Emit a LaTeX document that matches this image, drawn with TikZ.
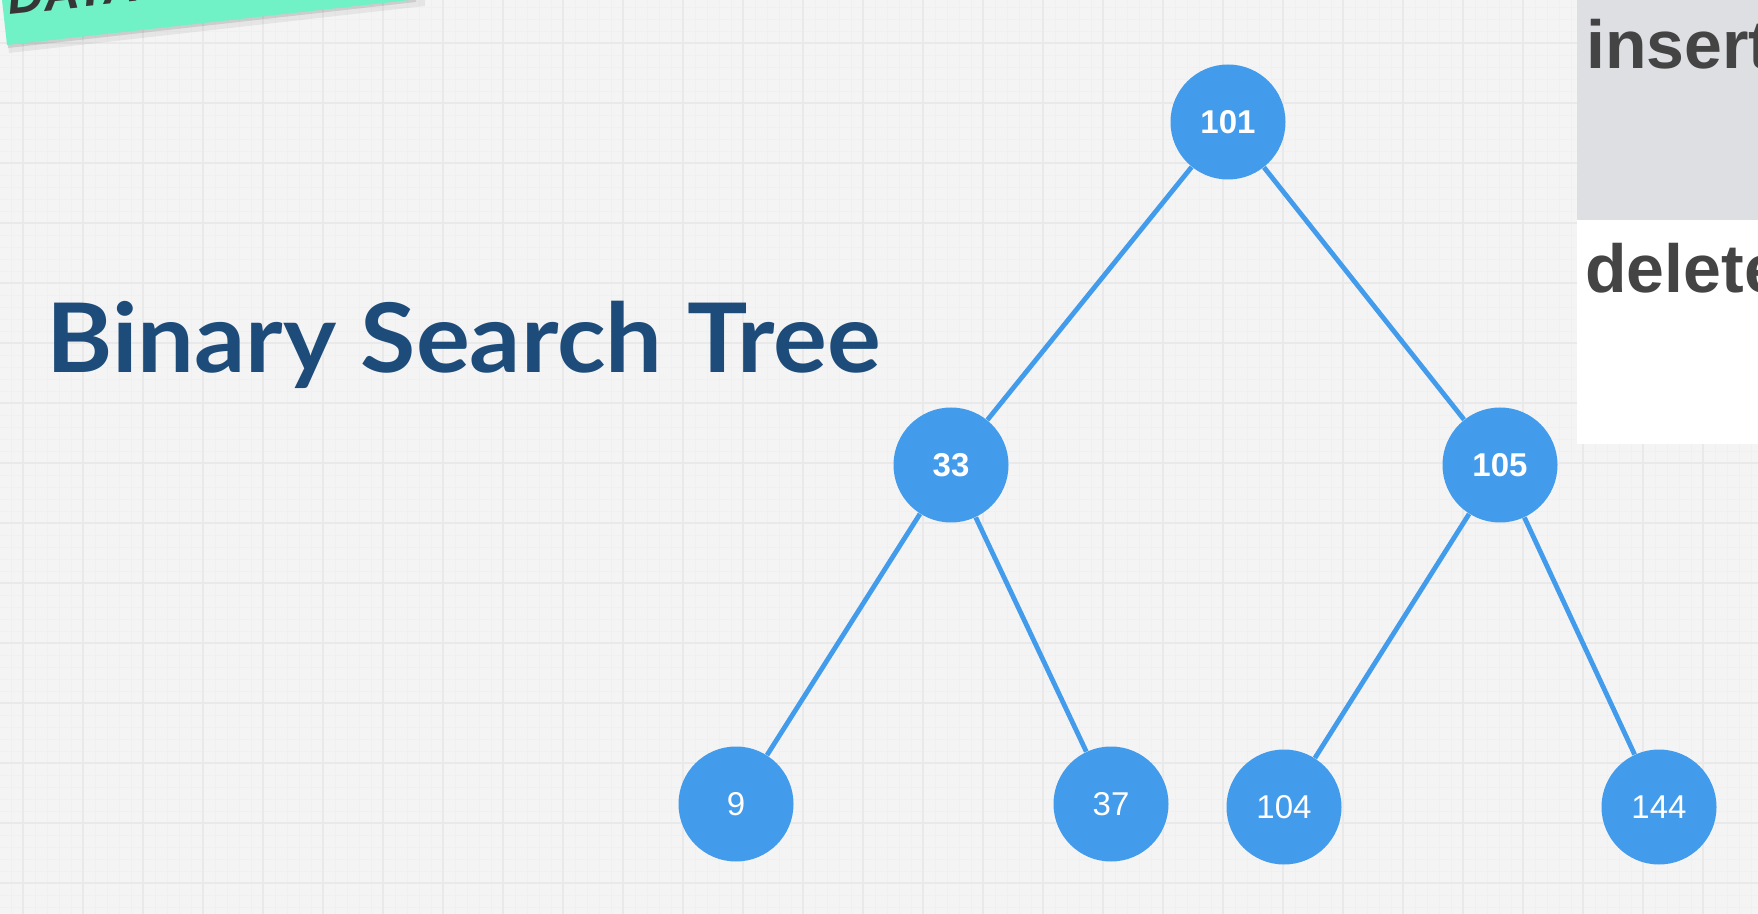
\documentclass[tikz,border=0pt]{standalone}
\usepackage{fontspec}
\setmainfont{Liberation Sans}
\newfontfamily\titlefont{Lato}
\usetikzlibrary{positioning}
\definecolor{nodeblue}{RGB}{66,155,235}
\definecolor{titleblue}{RGB}{30,76,122}
\definecolor{panelgrey}{RGB}{222,223,227}
\definecolor{mint}{RGB}{112,242,198}
\definecolor{paper}{RGB}{244,244,244}
\definecolor{gridmajor}{RGB}{233,233,233}
\definecolor{gridminor}{RGB}{240,240,240}
\definecolor{textgrey}{RGB}{68,68,68}

\begin{document}
\begin{tikzpicture}[x=0.5pt, y=-0.5pt,
    key/.style={circle, fill=nodeblue, text=white, minimum size=57.5pt, inner sep=0pt, font=\fontsize{16.5}{19}\selectfont},
    keybold/.style={key, font=\fontsize{16.5}{19}\selectfont\bfseries},
    edge/.style={draw=nodeblue, line width=2.4pt},
    op/.style={anchor=base west, inner sep=0pt, text=textgrey, font=\fontsize{34}{40}\selectfont\bfseries}]
    \clip (0,0) rectangle (1758,914);
    % paper with grid
    \fill[paper] (0,0) rectangle (1758,914);
    \foreach \gx in {11,23,...,1758} \draw[gridminor, line width=0.3pt] (\gx,0) -- (\gx,914);
    \foreach \gy in {7,19,...,914} \draw[gridminor, line width=0.3pt] (0,\gy) -- (1758,\gy);
    \foreach \gx in {23,83,...,1758} \draw[gridmajor, line width=0.9pt] (\gx,0) -- (\gx,914);
    \foreach \gy in {43,103,...,914} \draw[gridmajor, line width=0.9pt] (0,\gy) -- (1758,\gy);
    % banner
    \fill[black, opacity=0.06] (3,0) -- (9,53) -- (425,6) -- (425,0) -- cycle;
    \fill[black, opacity=0.10] (3,0) -- (8,48) -- (416,2) -- (416,0) -- cycle;
    \fill[mint] (2,0) -- (7,45) -- (410,0) -- cycle;
    \node[rotate=6, anchor=base west, inner sep=0pt, text=textgrey!80!black, font=\fontsize{25}{30}\selectfont\bfseries\itshape] (tag) at (9,15) {DATA};
    % title
    \node[anchor=base west, inner sep=0pt, text=titleblue, font=\titlefont\fontsize{48}{58}\selectfont\bfseries] (title) at (46,373) {\scalebox{1.05}[1]{Binary Search Tree}};
    % operations panel
    \fill[panelgrey] (1577,0) rectangle (1758,220);
    \fill[white] (1577,220) rectangle (1758,444);
    \node[op] (ins) at (1586,69) {insert};
    \node[op] (del) at (1585,293) {delete};
    % tree
    \node[keybold] (n101) at (1228,122) {101};
    \node[keybold] (n33) at (951,465) {33};
    \node[keybold] (n105) at (1500,465) {105};
    \node[key] (n9) at (736,804) {9};
    \node[key] (n37) at (1111,804) {37};
    \node[key] (n104) at (1284,807) {104};
    \node[key] (n144) at (1659,807) {144};
    \draw[edge] (n101) -- (n33); \draw[edge] (n101) -- (n105);
    \draw[edge] (n33) -- (n9); \draw[edge] (n33) -- (n37);
    \draw[edge] (n105) -- (n104); \draw[edge] (n105) -- (n144);
\end{tikzpicture}
\end{document}
